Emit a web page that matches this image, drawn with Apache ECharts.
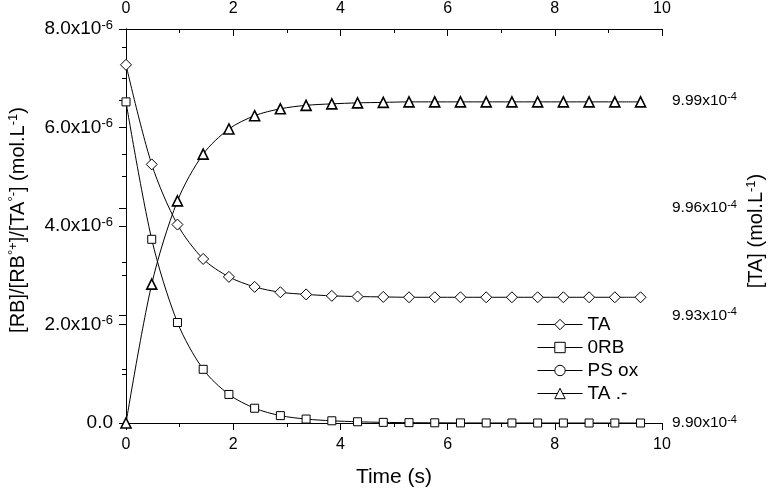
<!DOCTYPE html>
<html>
<head>
<meta charset="utf-8">
<script src="https://cdn.jsdelivr.net/npm/echarts@6/dist/echarts.min.js"></script>
<style>
html,body{margin:0;padding:0;background:#fff;}
#c{width:768px;height:492px;}
</style>
</head>
<body>
<div id="c"></div>
<script>
// Time (s)
const times = [0, 0.48, 0.96, 1.44, 1.92, 2.40, 2.88, 3.36, 3.84, 4.32, 4.80, 5.28, 5.76, 6.24, 6.72, 7.20, 7.68, 8.16, 8.64, 9.12, 9.60];
// [TA] (mol/L) - right axis
const taValues = [1.0000e-3, 9.9722e-4, 9.9554e-4, 9.9458e-4, 9.9408e-4, 9.9380e-4, 9.9365e-4, 9.9359e-4, 9.9355e-4, 9.9353e-4, 9.9352e-4, 9.9351e-4, 9.9351e-4, 9.9351e-4, 9.9351e-4, 9.9351e-4, 9.9351e-4, 9.9351e-4, 9.9351e-4, 9.9351e-4, 9.9351e-4];
// 0RB (mol/L) - left axis
const rbValues = [6.52e-6, 3.73e-6, 2.04e-6, 1.09e-6, 0.58e-6, 0.30e-6, 0.15e-6, 0.08e-6, 0.045e-6, 0.025e-6, 0.013e-6, 0.007e-6, 0.004e-6, 0.002e-6, 0.001e-6, 0.0005e-6, 0.0003e-6, 0.0002e-6, 0.0001e-6, 0.0001e-6, 0.0e-6];
// PS ox (not visible in the plot)
const psoxValues = [];
// TA .- (mol/L) - left axis
const taRadValues = [0, 2.82e-6, 4.51e-6, 5.46e-6, 5.97e-6, 6.24e-6, 6.38e-6, 6.45e-6, 6.48e-6, 6.50e-6, 6.51e-6, 6.52e-6, 6.52e-6, 6.52e-6, 6.52e-6, 6.52e-6, 6.52e-6, 6.52e-6, 6.52e-6, 6.52e-6, 6.52e-6];
// Series names
const seriesNames = ['TA', '0RB', 'PS ox', 'TA .-'];

const FONT = 'Liberation Sans, Arial, sans-serif';
const pair = (vals) => vals.map((v, i) => [times[i], v]);

const chart = echarts.init(document.getElementById('c'));
const leftRich = {
  a: {fontSize: 19, fontFamily: FONT, color: '#000'},
  s: {fontSize: 13, fontFamily: FONT, color: '#000', padding: [0, 0, 8, 0]}
};
const rightRich = {
  a: {fontSize: 15.5, fontFamily: FONT, color: '#000'},
  s: {fontSize: 11, fontFamily: FONT, color: '#000', padding: [0, 0, 7, 0]}
};
const nameRich = {
  a: {fontSize: 20, fontFamily: FONT, color: '#000'},
  s: {fontSize: 13, fontFamily: FONT, color: '#000', padding: [0, 0, 9, 0]}
};
const baseItem = {color: '#fff', borderColor: '#000', borderWidth: 1};
const baseLine = {color: '#000', width: 1};

chart.setOption({
  animation: false,
  backgroundColor: '#fff',
  textStyle: {fontFamily: FONT, color: '#000'},
  grid: {left: 126, right: 106, top: 29, bottom: 69, outerBoundsMode: 'none', containLabel: false},
  legend: {
    orient: 'vertical',
    left: 532, top: 310,
    itemWidth: 45, itemHeight: 13, itemGap: 4,
    lineStyle: {width: 1},
    itemStyle: {borderWidth: 1},
    textStyle: {fontSize: 19, fontFamily: FONT, color: '#000'},
    data: seriesNames
  },
  xAxis: [
    {
      type: 'value', position: 'bottom', min: 0, max: 10, interval: 2,
      name: 'Time (s)', nameLocation: 'middle', nameGap: 44, nameMoveOverlap: false,
      nameTextStyle: {fontSize: 21, fontFamily: FONT, color: '#000'},
      axisLine: {show: true, lineStyle: {color: '#000', width: 1}},
      axisTick: {show: true, inside: false, length: 7, lineStyle: {color: '#000'}},
      minorTick: {show: true, splitNumber: 2, length: 4, lineStyle: {color: '#000'}},
      axisLabel: {fontSize: 16, fontFamily: FONT, color: '#000', margin: 14},
      splitLine: {show: false}
    },
    {
      type: 'value', position: 'top', min: 0, max: 10, interval: 2,
      axisLine: {show: true, lineStyle: {color: '#000', width: 1}},
      axisTick: {show: true, inside: true, length: 7, lineStyle: {color: '#000'}},
      minorTick: {show: true, splitNumber: 2, length: 4, lineStyle: {color: '#000'}},
      axisLabel: {fontSize: 16, fontFamily: FONT, color: '#000', margin: 12},
      splitLine: {show: false}
    }
  ],
  yAxis: [
    {
      type: 'value', position: 'left', min: 0, max: 8e-6, interval: 2e-6,
      name: '{a|[RB]/[RB}{s|°+}{a|]/[TA}{s|°-}{a|] (mol.L}{s|-1}{a|)}',
      nameLocation: 'middle', nameGap: 97, nameRotate: 90, nameMoveOverlap: false,
      nameTextStyle: {rich: nameRich, padding: [0, 0, 0, 12]},
      axisLine: {show: true, lineStyle: {color: '#000', width: 1}},
      axisTick: {show: true, inside: false, length: 7, lineStyle: {color: '#000'}},
      minorTick: {show: true, splitNumber: 2, length: 4, lineStyle: {color: '#000'}},
      axisLabel: {
        margin: 13,
        formatter: function (v) {
          if (Math.abs(v) < 1e-12) return '{a|0.0}';
          return '{a|' + (v * 1e6).toFixed(1) + 'x10}{s|-6}';
        },
        rich: leftRich
      },
      splitLine: {show: false}
    },
    {
      type: 'value', position: 'right', min: 9.90e-4, max: 1.001e-3, interval: 3e-6,
      name: '{a|[TA] (mol.L}{s|-1}{a|)}',
      nameLocation: 'middle', nameGap: 83, nameRotate: 90, nameMoveOverlap: false,
      nameTextStyle: {rich: nameRich, padding: [0, 0, 0, -10]},
      axisLine: {show: true, lineStyle: {color: '#000', width: 1}},
      axisTick: {show: true, inside: true, length: 7, lineStyle: {color: '#000'}},
      minorTick: {show: true, splitNumber: 2, length: 4, lineStyle: {color: '#000'}},
      axisLabel: {
        margin: 10,
        formatter: function (v) {
          if (v > 9.995e-4) return '';
          return '{a|' + (v * 1e4).toFixed(2) + 'x10}{s|-4}';
        },
        rich: rightRich
      },
      splitLine: {show: false}
    }
  ],
  series: [
    {
      name: seriesNames[0], type: 'line', xAxisIndex: 0, yAxisIndex: 1,
      data: pair(taValues), smooth: 0.3, symbol: 'diamond', symbolSize: 11,
      itemStyle: baseItem, lineStyle: baseLine, z: 3
    },
    {
      name: seriesNames[1], type: 'line', xAxisIndex: 0, yAxisIndex: 0,
      data: pair(rbValues), smooth: 0.3, symbol: 'rect', symbolSize: 8,
      itemStyle: baseItem, lineStyle: baseLine, z: 3
    },
    {
      name: seriesNames[2], type: 'line', xAxisIndex: 0, yAxisIndex: 0,
      data: pair(psoxValues), smooth: 0.3, symbol: 'circle', symbolSize: 9,
      itemStyle: baseItem, lineStyle: baseLine, z: 3
    },
    {
      name: seriesNames[3], type: 'line', xAxisIndex: 0, yAxisIndex: 0,
      data: pair(taRadValues), smooth: 0.3, symbol: 'triangle', symbolSize: 10,
      itemStyle: {color: '#fff', borderColor: '#000', borderWidth: 1.6}, lineStyle: baseLine, z: 4
    }
  ]
});
</script>
</body>
</html>
